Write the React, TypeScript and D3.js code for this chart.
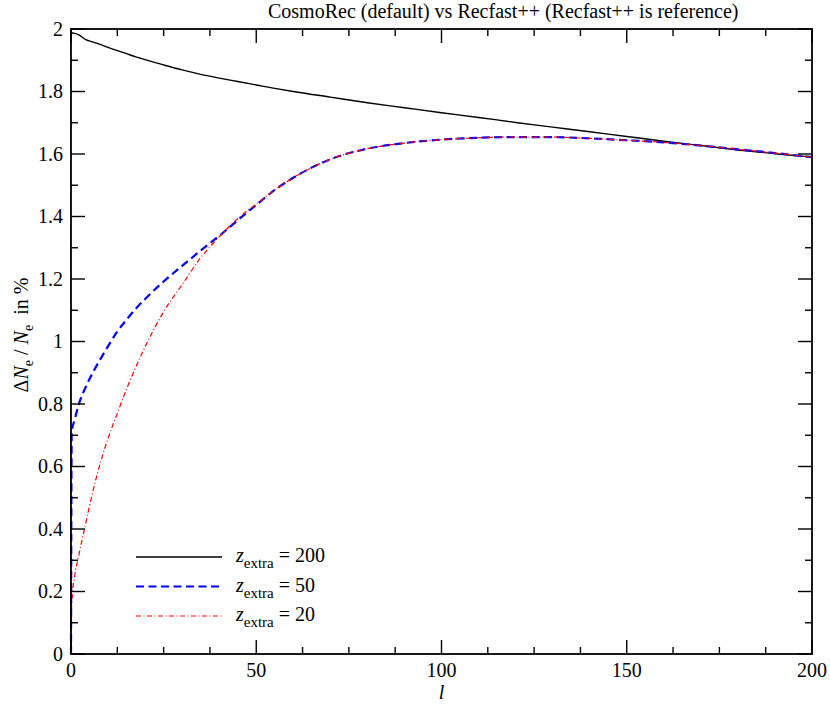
import React from 'react';
import * as d3 from 'd3';

// multipole l grid shared by all three curves
const ells = [0, 0.2, 1, 2, 4, 6, 8, 10, 12.5, 15, 17.5, 20, 25, 30, 35, 40, 45, 50, 55, 60, 70, 80, 90, 100, 110, 120, 130, 140, 150, 160, 170, 180, 190, 200];

// z_extra = 200 (solid black)
const zex200 = [2.0, 1.988, 1.986, 1.982, 1.966, 1.958, 1.95, 1.941, 1.931, 1.921, 1.911, 1.902, 1.885, 1.869, 1.855, 1.843, 1.832, 1.821, 1.81, 1.8, 1.782, 1.764, 1.748, 1.732, 1.717, 1.701, 1.686, 1.671, 1.656, 1.641, 1.627, 1.613, 1.601, 1.59];

// z_extra = 50 (blue dashed)
const zex50 = [0, 0.71, 0.75, 0.795, 0.855, 0.903, 0.945, 0.985, 1.032, 1.07, 1.105, 1.136, 1.192, 1.242, 1.291, 1.338, 1.388, 1.437, 1.485, 1.524, 1.583, 1.617, 1.635, 1.646, 1.652, 1.654, 1.654, 1.65, 1.644, 1.637, 1.627, 1.615, 1.603, 1.59];

// z_extra = 20 (red dash-dot)
const zex20 = [0, 0.165, 0.25, 0.31, 0.42, 0.525, 0.615, 0.69, 0.77, 0.848, 0.918, 0.983, 1.095, 1.182, 1.268, 1.335, 1.393, 1.44, 1.485, 1.524, 1.583, 1.617, 1.635, 1.646, 1.652, 1.654, 1.654, 1.65, 1.644, 1.637, 1.627, 1.615, 1.603, 1.59];

const xMajor = [0, 50, 100, 150, 200];
const xTickLabels = ['0', '50', '100', '150', '200'];
const yMajor = [0, 0.2, 0.4, 0.6, 0.8, 1, 1.2, 1.4, 1.6, 1.8, 2];
const yTickLabels = ['0', '0.2', '0.4', '0.6', '0.8', '1', '1.2', '1.4', '1.6', '1.8', '2'];

const legendItems = [
  { label: '200', values: zex200, color: '#000000', dash: 'none', width: 1.4 },
  { label: '50', values: zex50, color: '#0000ff', dash: '8,4.5', width: 2.2 },
  { label: '20', values: zex20, color: '#ff0000', dash: '5,2.5,1,2.5', width: 1.2 },
];

const W = 830;
const H = 704;
const m = { left: 71, right: 812, top: 29, bottom: 654 };
const font = "'Liberation Serif', 'Times New Roman', Times, serif";

export default function App() {
  const x = d3.scaleLinear().domain([0, 200]).range([m.left, m.right]);
  const y = d3.scaleLinear().domain([0, 2]).range([m.bottom, m.top]);

  const xMinor = d3.range(0, 200.01, 12.5).filter(v => v % 50 !== 0);
  const yMinor = d3.range(0.1, 2, 0.2);

  const line = (vals: number[]) =>
    d3.line<number>()
      .x((_, i) => x(ells[i]))
      .y(d => y(d))
      .curve(d3.curveMonotoneX)(vals) || '';

  const major = 14;
  const minor = 7;

  return (
    <svg width={W} height={H} style={{ position: 'absolute', left: 0, top: 0, background: '#fff', fontFamily: font }}>
      <rect x={0} y={0} width={W} height={H} fill="#fff" />

      {/* title */}
      <text x={268} y={18} fontSize={20}>CosmoRec (default) vs Recfast++ (Recfast++ is reference)</text>

      {/* curves */}
      {legendItems.map((s, i) => (
        <path key={i} d={line(s.values)} fill="none" stroke={s.color}
          strokeWidth={s.width} strokeDasharray={s.dash} />
      ))}

      {/* ticks, mirrored on all sides, pointing inward */}
      <g stroke="#000" strokeWidth={1.4}>
        {xMajor.map(v => (
          <g key={'xM' + v}>
            <line x1={x(v)} x2={x(v)} y1={m.bottom} y2={m.bottom - major} />
            <line x1={x(v)} x2={x(v)} y1={m.top} y2={m.top + major} />
          </g>
        ))}
        {xMinor.map(v => (
          <g key={'xm' + v}>
            <line x1={x(v)} x2={x(v)} y1={m.bottom} y2={m.bottom - minor} />
            <line x1={x(v)} x2={x(v)} y1={m.top} y2={m.top + minor} />
          </g>
        ))}
        {yMajor.map(v => (
          <g key={'yM' + v}>
            <line x1={m.left} x2={m.left + major} y1={y(v)} y2={y(v)} />
            <line x1={m.right} x2={m.right - major} y1={y(v)} y2={y(v)} />
          </g>
        ))}
        {yMinor.map(v => (
          <g key={'ym' + v}>
            <line x1={m.left} x2={m.left + minor} y1={y(v)} y2={y(v)} />
            <line x1={m.right} x2={m.right - minor} y1={y(v)} y2={y(v)} />
          </g>
        ))}
      </g>

      {/* frame */}
      <rect x={m.left} y={m.top} width={m.right - m.left} height={m.bottom - m.top}
        fill="none" stroke="#000" strokeWidth={1.8} />

      {/* tick labels */}
      <g fontSize={20} fill="#000">
        {xMajor.map((v, i) => (
          <text key={'xl' + v} x={x(v)} y={677} textAnchor="middle">{xTickLabels[i]}</text>
        ))}
        {yMajor.map((v, i) => (
          <text key={'yl' + v} x={63} y={y(v)} dy="0.33em" textAnchor="end">{yTickLabels[i]}</text>
        ))}
      </g>

      {/* axis labels */}
      <text x={(m.left + m.right) / 2} y={699} fontSize={20} fontStyle="italic" textAnchor="middle">l</text>
      <text transform={`translate(28,${335}) rotate(-90)`} fontSize={20} textAnchor="middle" style={{ whiteSpace: 'pre' }}>
        Δ<tspan fontStyle="italic">N</tspan><tspan fontSize={14} dy={5}>e</tspan>
        <tspan dy={-5}> / </tspan><tspan fontStyle="italic">N</tspan>
        <tspan fontSize={14} dy={5}>e</tspan><tspan dy={-5}>{'  in %'}</tspan>
      </text>

      {/* legend */}
      {legendItems.map((s, i) => {
        const ly = 557 + i * 29.5;
        return (
          <g key={'lg' + i}>
            <line x1={136} x2={222} y1={ly} y2={ly} stroke={s.color}
              strokeWidth={s.width} strokeDasharray={s.dash} />
            <text x={236} y={ly + 5} fontSize={20}>
              <tspan fontStyle="italic">z</tspan>
              <tspan fontSize={15} dy={6}>extra</tspan>
              <tspan dy={-6}> = {s.label}</tspan>
            </text>
          </g>
        );
      })}
    </svg>
  );
}
